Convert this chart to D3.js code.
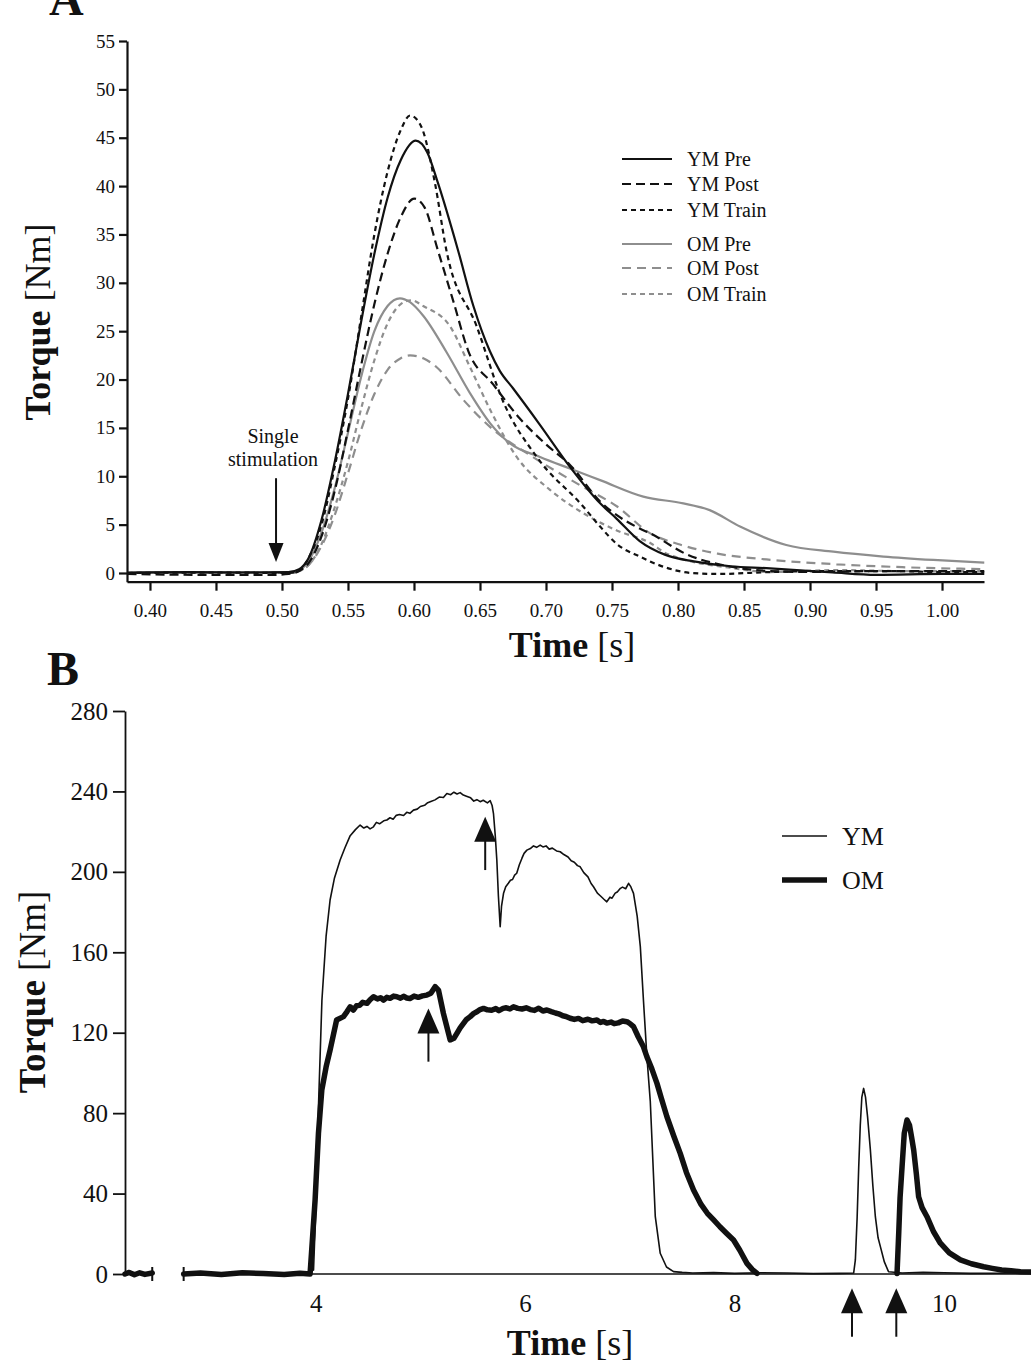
<!DOCTYPE html>
<html>
<head>
<meta charset="utf-8">
<script src="https://cdn.jsdelivr.net/npm/d3@7"></script>
<style>
  body { margin: 0; background: #fff; }
  svg text { font-family: 'Liberation Serif', 'Times New Roman', serif; fill: #111; }
</style>
</head>
<body>
<div id="chart"></div>
<script>
// ---------- Panel A data (single twitch) ----------
const ymPreT = [0.383, 0.43, 0.47, 0.505, 0.513, 0.52, 0.53, 0.54, 0.55, 0.56, 0.57, 0.58, 0.59, 0.6013, 0.61, 0.6182, 0.6333, 0.645, 0.6576, 0.665, 0.675, 0.695, 0.718, 0.741, 0.7536, 0.771, 0.79, 0.812, 0.84, 0.867, 0.917, 0.95, 1.0, 1.032]
const ymPreV = [0.05, 0.1, 0.05, 0.1, 0.4, 1.5, 5.5, 11.5, 18.5, 26, 33, 38.8, 42.7, 44.7, 43.5, 40.3, 33.4, 27.6, 22.9, 20.9, 19.1, 15.4, 11.0, 7.2, 5.6, 3.3, 1.9, 1.2, 0.7, 0.5, 0.05, -0.2, -0.1, -0.1]

const ymPostT = [0.383, 0.45, 0.49, 0.505, 0.513, 0.52, 0.53, 0.54, 0.55, 0.56, 0.57, 0.58, 0.59, 0.6002, 0.608, 0.618, 0.63, 0.641, 0.66, 0.68, 0.70, 0.718, 0.741, 0.771, 0.779, 0.8055, 0.84, 0.87, 0.9, 0.95, 1.0, 1.032]
const ymPostV = [-0.1, -0.2, -0.2, -0.1, 0.2, 1, 3.8, 8.5, 14.8, 21.5, 27.8, 33, 36.8, 38.7, 37.8, 33.4, 28, 23, 19.5, 16, 13.3, 11.2, 7.4, 4.6, 4.1, 2.0, 0.65, 0.2, 0.1, 0.2, 0.2, 0.2]

const ymTrainT = [0.383, 0.45, 0.505, 0.513, 0.52, 0.53, 0.54, 0.55, 0.56, 0.57, 0.58, 0.59, 0.597, 0.605, 0.6159, 0.6245, 0.6475, 0.667, 0.693, 0.728, 0.741, 0.7536, 0.771, 0.79, 0.81, 0.83, 0.87, 0.92, 0.96, 1.0, 1.032]
const ymTrainV = [0, 0.05, 0, 0.3, 1.5, 5, 11, 18, 26.5, 35, 41.5, 45.8, 47.3, 46.3, 40.3, 33.4, 25.5, 17.9, 12.0, 6.9, 4.8, 3.0, 1.7, 0.6, 0.0, -0.1, 0.1, 0.2, 0.2, 0.1, 0.1]

const omPreT = [0.383, 0.45, 0.505, 0.513, 0.52, 0.53, 0.54, 0.55, 0.56, 0.57, 0.58, 0.5894, 0.597, 0.607, 0.6248, 0.6424, 0.6576, 0.6727, 0.6955, 0.718, 0.741, 0.7737, 0.804, 0.824, 0.847, 0.882, 0.9177, 0.9556, 0.9934, 1.032]
const omPreV = [0, 0.1, 0.1, 0.3, 1.2, 4.2, 8.8, 14.5, 20.3, 25, 27.6, 28.4, 28.0, 26.6, 22.8, 18.6, 15.5, 13.4, 12.0, 10.8, 9.6, 7.9, 7.2, 6.5, 4.8, 2.9, 2.2, 1.7, 1.35, 1.07]

const omPostT = [0.383, 0.45, 0.505, 0.513, 0.52, 0.53, 0.54, 0.55, 0.56, 0.57, 0.58, 0.59, 0.597, 0.607, 0.617, 0.6374, 0.6576, 0.690, 0.728, 0.7536, 0.779, 0.80, 0.83, 0.867, 0.92, 0.97, 1.032]
const omPostV = [0, 0, 0, 0.2, 0.8, 2.8, 6, 10.3, 14.8, 18.5, 21, 22.2, 22.5, 22.2, 21.3, 17.9, 15.1, 12.0, 8.9, 6.9, 4.1, 3.0, 2.0, 1.4, 0.9, 0.6, 0.4]

const omTrainT = [0.383, 0.45, 0.505, 0.513, 0.52, 0.53, 0.54, 0.55, 0.56, 0.57, 0.58, 0.59, 0.598, 0.607, 0.6273, 0.6424, 0.6576, 0.6778, 0.703, 0.728, 0.7536, 0.779, 0.7915, 0.842, 0.87, 0.92, 0.97, 1.032]
const omTrainV = [0, 0, 0, 0.2, 0.8, 3, 6.8, 11.5, 17, 22, 25.8, 27.8, 28.2, 27.6, 25.5, 21.3, 16.9, 12.0, 8.6, 6.2, 4.4, 3.1, 2.0, 0.5, 0.1, 0.3, 0.2, 0.2]

const seriesA = ['YM Pre', 'YM Post', 'YM Train', 'OM Pre', 'OM Post', 'OM Train']
const ticksAx = [0.40, 0.45, 0.50, 0.55, 0.60, 0.65, 0.70, 0.75, 0.80, 0.85, 0.90, 0.95, 1.00]
const ticksAy = [0, 5, 10, 15, 20, 25, 30, 35, 40, 45, 50, 55]
const stimA = { t: 0.4955, tip: 1.14, tail: 9.8 }

// ---------- Panel B data (MVC + twitches) ----------
const ymBT = [2.18, 2.25, 2.32, 2.38, 2.44, null, 2.74, 3.0, 3.3, 3.6, 3.9, 3.98, 4.0, 4.027, 4.06, 4.1, 4.138, 4.18, 4.234, 4.28, 4.33, 4.38, 4.425, 4.46, 4.49, 4.52, 4.552, 4.58, 4.61, 4.65, 4.68, 4.71, 4.74, 4.77, 4.80, 4.84, 4.87, 4.90, 4.934, 4.97, 5.0, 5.04, 5.07, 5.1, 5.14, 5.18, 5.22, 5.253, 5.29, 5.32, 5.35, 5.38, 5.41, 5.44, 5.48, 5.51, 5.54, 5.571, 5.60, 5.64, 5.667, 5.685, 5.698, 5.715, 5.73, 5.745, 5.762, 5.775, 5.794, 5.815, 5.84, 5.86, 5.88, 5.90, 5.92, 5.945, 5.97, 5.99, 6.017, 6.05, 6.08, 6.11, 6.144, 6.17, 6.2, 6.23, 6.26, 6.3, 6.335, 6.37, 6.41, 6.44, 6.47, 6.5, 6.526, 6.56, 6.6, 6.63, 6.653, 6.69, 6.72, 6.75, 6.78, 6.81, 6.83, 6.86, 6.88, 6.91, 6.93, 6.96, 6.988, 7.01, 7.035, 7.07, 7.1, 7.13, 7.163, 7.195, 7.243, 7.29, 7.35, 7.417, 7.5, 7.6, 7.8, 8.0, 8.25, 8.5, 8.75, 9.0, 9.137, 9.153, 9.17, 9.185, 9.2, 9.215, 9.232, 9.25, 9.27, 9.296, 9.32, 9.344, 9.37, 9.392, 9.43, 9.47, 9.6, 9.8, 10.0, 10.25, 10.5, 10.83]
const ymBV = [0.5, 0.2, 0.6, 0.1, 0.4, null, 0.3, 0.1, 0.5, 0.2, 0.4, 2, 30, 83, 136, 168, 186, 197, 205.9, 212, 218, 221, 223.3, 221.8, 222.6, 221.4, 222.4, 224.6, 223.9, 225.4, 225.8, 226.9, 226.2, 228.1, 228.5, 228.0, 229.6, 229.1, 230.7, 231.2, 232.5, 233.1, 234.4, 235, 235.8, 237.2, 237.0, 239, 238.4, 239.6, 238.7, 239.4, 238.2, 237.6, 236.8, 235.2, 235.9, 234.9, 235.6, 234.3, 235.4, 233, 229, 218, 205.9, 188, 172.7, 183, 189.3, 192.6, 194.3, 195.8, 196.2, 198.4, 199.3, 203.5, 206.8, 209.2, 210.8, 211.6, 212.9, 212.2, 213.3, 212.4, 212.9, 211.3, 211.8, 210.4, 210, 208.6, 207.4, 205.5, 204.8, 203.1, 202.5, 199.6, 197.5, 194.2, 192.6, 189.4, 188, 186.5, 185.1, 187.4, 186.9, 189.4, 190, 191.8, 192.4, 191.6, 194.3, 192.5, 189.3, 178, 162.8, 136, 108, 86, 28.5, 10.3, 3.5, 1.2, 0.8, 0.5, 0.7, 0.3, 0.6, 0.5, 0.2, 0.3, 0.5, 7, 28, 53, 74, 88, 92.3, 88, 78, 62, 44, 28.5, 18, 13.6, 6, 1.1, 0.5, 0.8, 0.6, 0.3, 0.4, 0.5]

const omBT = [2.18, 2.22, 2.27, 2.32, 2.37, 2.44, null, 2.74, 2.9, 3.1, 3.3, 3.5, 3.7, 3.85, 3.947, 3.995, 4.027, 4.059, 4.1, 4.138, 4.2, 4.266, 4.30, 4.33, 4.36, 4.39, 4.42, 4.45, 4.49, 4.52, 4.552, 4.59, 4.62, 4.648, 4.68, 4.71, 4.745, 4.775, 4.81, 4.84, 4.87, 4.9, 4.94, 4.98, 5.02, 5.062, 5.1, 5.141, 5.173, 5.22, 5.285, 5.32, 5.349, 5.38, 5.41, 5.44, 5.476, 5.51, 5.54, 5.57, 5.603, 5.64, 5.68, 5.72, 5.75, 5.79, 5.82, 5.855, 5.889, 5.93, 5.97, 6.01, 6.05, 6.09, 6.13, 6.17, 6.208, 6.25, 6.29, 6.32, 6.36, 6.39, 6.43, 6.47, 6.51, 6.55, 6.6, 6.64, 6.686, 6.72, 6.75, 6.78, 6.82, 6.85, 6.89, 6.93, 6.972, 7.0, 7.035, 7.08, 7.13, 7.163, 7.21, 7.259, 7.3, 7.354, 7.42, 7.481, 7.54, 7.608, 7.68, 7.74, 7.8, 7.86, 7.92, 7.99, 8.05, 8.118, 8.17, 8.214, null, 9.551, 9.567, 9.58, 9.599, 9.62, 9.646, 9.67, 9.69, 9.71, 9.735, 9.757, 9.79, 9.837, 9.9, 9.965, 10.05, 10.156, 10.26, 10.378, 10.46, 10.55, 10.64, 10.73, 10.83]
const omBV = [0, 0.8, -0.4, 0.6, -0.2, 0.5, null, 0, 0.5, -0.3, 0.6, 0.2, -0.2, 0.4, 0, 36.8, 70, 91.5, 103, 111.4, 126.3, 128, 130.5, 132.9, 131.3, 133.4, 133.6, 135.1, 134.6, 136.4, 137.9, 136.8, 137.4, 136.2, 137.6, 137.1, 138.2, 137.9, 137.2, 138.1, 137.3, 137, 138.2, 137.6, 138.3, 138.7, 139.6, 142.9, 141.2, 129.6, 116.4, 117.2, 119.7, 122.4, 124.5, 126.6, 128, 129.6, 130.4, 131.5, 132.1, 131.4, 131.2, 132.0, 131, 132.1, 132.4, 131.8, 132.9, 132.1, 131.8, 132.4, 131.5, 131.1, 132.2, 130.8, 131.3, 130.5, 129.8, 129.4, 128.4, 128.1, 127.2, 126.6, 127.1, 126, 126.7, 125.9, 126.3, 125.1, 125.6, 124.8, 125.3, 124.5, 124.9, 125.8, 125.5, 124.6, 123, 118, 113, 108, 102, 94.8, 87.5, 78.2, 68.5, 60, 50.5, 41.8, 34.6, 30.2, 26.9, 23.5, 20.4, 16.9, 11.8, 5.3, 2.2, 0.3, null, 0.3, 20.2, 38, 53.4, 70, 76.6, 74, 68, 61.7, 50, 38.4, 33, 28.5, 21, 15.3, 10.5, 7, 5.1, 3.6, 2.8, 2, 1.6, 1.1, 1]

const axisBreak = [2.44, 2.74]
const ticksBx = [4, 6, 8, 10]
const ticksBy = [0, 40, 80, 120, 160, 200, 240, 280]
const arrowsB = [
  { t: 5.619, tip: 227.4, tail: 200.9 },
  { t: 5.077, tip: 132.1, tail: 105.6 },
  { t: 9.121, tip: -7.1, tail: -31.2 },
  { t: 9.544, tip: -7.1, tail: -31.2 }
]

const width = 1031
const height = 1372
const ink = '#111'
const grey = '#8e8e8e'

const svg = d3.select('#chart')
  .append('svg')
  .attr('width', width)
  .attr('height', height)

// ================= Panel A =================
const xA = d3.scaleLinear().domain([0.3826, 1.0318]).range([127, 984])
const yA = d3.scaleLinear().domain([-0.9, 55]).range([581.7, 41])

const gA = svg.append('g')

const styleA = {
  'YM Pre':   { t: ymPreT,   v: ymPreV,   color: ink,  dash: null },
  'YM Post':  { t: ymPostT,  v: ymPostV,  color: ink,  dash: '9,5' },
  'YM Train': { t: ymTrainT, v: ymTrainV, color: ink,  dash: '5,4' },
  'OM Pre':   { t: omPreT,   v: omPreV,   color: grey, dash: null },
  'OM Post':  { t: omPostT,  v: omPostV,  color: grey, dash: '9,6' },
  'OM Train': { t: omTrainT, v: omTrainV, color: grey, dash: '5,4' }
}

const lineA = d3.line()
  .x(d => xA(d[0]))
  .y(d => yA(d[1]))
  .curve(d3.curveMonotoneX)

// draw grey first so black sits on top
;['OM Pre', 'OM Post', 'OM Train', 'YM Pre', 'YM Post', 'YM Train'].forEach(name => {
  const s = styleA[name]
  gA.append('path')
    .datum(s.t.map((t, i) => [t, s.v[i]]))
    .attr('fill', 'none')
    .attr('stroke', s.color)
    .attr('stroke-width', 2.2)
    .attr('stroke-dasharray', s.dash)
    .attr('d', lineA)
})

// axes
const axA_x = gA.append('g')
  .attr('transform', `translate(0, ${yA(-0.9)})`)
  .call(d3.axisBottom(xA).tickValues(ticksAx).tickFormat(d3.format('.2f')).tickSize(9).tickSizeOuter(0).tickPadding(13))
const axA_y = gA.append('g')
  .attr('transform', `translate(${xA(0.3826)}, 0)`)
  .call(d3.axisLeft(yA).tickValues(ticksAy).tickSize(8).tickSizeOuter(0).tickPadding(4))
;[axA_x, axA_y].forEach(ax => {
  ax.selectAll('path, line').attr('stroke', ink).attr('stroke-width', 2.2)
  ax.selectAll('text').attr('font-size', 19).attr('font-family', null).attr('fill', ink)
})

// titles
gA.append('text')
  .attr('x', 49).attr('y', 15)
  .attr('font-size', 48).attr('font-weight', 'bold')
  .text('A')

const titleAx = gA.append('text')
  .attr('x', 572).attr('y', 657)
  .attr('text-anchor', 'middle')
  .attr('font-size', 36)
titleAx.append('tspan').attr('font-weight', 'bold').text('Time ')
titleAx.append('tspan').text('[s]')

const titleAy = gA.append('text')
  .attr('transform', 'translate(50, 322) rotate(-90)')
  .attr('text-anchor', 'middle')
  .attr('font-size', 36)
titleAy.append('tspan').attr('font-weight', 'bold').text('Torque ')
titleAy.append('tspan').text('[Nm]')

// stimulation arrow
gA.append('text')
  .attr('x', xA(0.4932)).attr('y', yA(13.4))
  .attr('text-anchor', 'middle').attr('font-size', 20)
  .text('Single')
gA.append('text')
  .attr('x', xA(0.4932)).attr('y', yA(11.1))
  .attr('text-anchor', 'middle').attr('font-size', 20)
  .text('stimulation')
gA.append('line')
  .attr('x1', xA(stimA.t)).attr('x2', xA(stimA.t))
  .attr('y1', yA(stimA.tail)).attr('y2', yA(stimA.tip) - 15)
  .attr('stroke', ink).attr('stroke-width', 2)
gA.append('path')
  .attr('d', `M${xA(stimA.t)},${yA(stimA.tip)} l-7.5,-19 l15,0 Z`)
  .attr('fill', ink)

// legend A
const legA = gA.append('g')
seriesA.forEach((name, i) => {
  const s = styleA[name]
  const y = [159, 184, 210, 244, 268, 294][i]
  legA.append('line')
    .attr('x1', 622).attr('x2', 672).attr('y1', y).attr('y2', y)
    .attr('stroke', s.color).attr('stroke-width', 2.2)
    .attr('stroke-dasharray', s.dash)
  legA.append('text')
    .attr('x', 687).attr('y', y).attr('dy', '0.35em')
    .attr('font-size', 20)
    .text(name)
})

// ================= Panel B =================
const xB = d3.scaleLinear().domain([2.18, 10.83]).range([125, 1031])
const yB = d3.scaleLinear().domain([0, 280]).range([1274, 711])

const gB = svg.append('g')

// zero line with axis break
;[[2.18, axisBreak[0]], [axisBreak[1], 10.83]].forEach(seg => {
  gB.append('line')
    .attr('x1', xB(seg[0])).attr('x2', xB(seg[1]))
    .attr('y1', yB(0)).attr('y2', yB(0))
    .attr('stroke', ink).attr('stroke-width', 1.6)
})
axisBreak.forEach(t => {
  gB.append('line')
    .attr('x1', xB(t)).attr('x2', xB(t))
    .attr('y1', yB(0) - 7).attr('y2', yB(0) + 7)
    .attr('stroke', ink).attr('stroke-width', 2)
})

const lineB = d3.line()
  .defined(d => d[0] !== null)
  .x(d => xB(d[0]))
  .y(d => yB(d[1]))

gB.append('path')
  .datum(omBT.map((t, i) => [t, omBV[i]]))
  .attr('fill', 'none')
  .attr('stroke', ink)
  .attr('stroke-width', 5.5)
  .attr('stroke-linejoin', 'round')
  .attr('stroke-linecap', 'round')
  .attr('d', lineB)

gB.append('path')
  .datum(ymBT.map((t, i) => [t, ymBV[i]]))
  .attr('fill', 'none')
  .attr('stroke', ink)
  .attr('stroke-width', 1.6)
  .attr('stroke-linejoin', 'round')
  .attr('d', lineB)

const axB_x = gB.append('g')
  .attr('transform', `translate(0, ${yB(0)})`)
  .call(d3.axisBottom(xB).tickValues(ticksBx).tickSize(0).tickPadding(20))
axB_x.select('.domain').remove()
const axB_y = gB.append('g')
  .attr('transform', `translate(${xB(2.18)}, 0)`)
  .call(d3.axisLeft(yB).tickValues(ticksBy).tickSize(12).tickSizeOuter(0).tickPadding(5))
;[axB_x, axB_y].forEach(ax => {
  ax.selectAll('path, line').attr('stroke', ink).attr('stroke-width', 1.8)
  ax.selectAll('text').attr('font-size', 25).attr('font-family', null).attr('fill', ink)
})

// arrows
arrowsB.forEach(a => {
  gB.append('line')
    .attr('x1', xB(a.t)).attr('x2', xB(a.t))
    .attr('y1', yB(a.tail)).attr('y2', yB(a.tip) + 20)
    .attr('stroke', ink).attr('stroke-width', 2)
  gB.append('path')
    .attr('d', `M${xB(a.t)},${yB(a.tip)} l-11,25 l22,0 Z`)
    .attr('fill', ink)
})

// titles
gB.append('text')
  .attr('x', 47).attr('y', 685)
  .attr('font-size', 48).attr('font-weight', 'bold')
  .text('B')

const titleBx = gB.append('text')
  .attr('x', 570).attr('y', 1355)
  .attr('text-anchor', 'middle')
  .attr('font-size', 36)
titleBx.append('tspan').attr('font-weight', 'bold').text('Time ')
titleBx.append('tspan').text('[s]')

const titleBy = gB.append('text')
  .attr('transform', 'translate(45, 992) rotate(-90)')
  .attr('text-anchor', 'middle')
  .attr('font-size', 37)
titleBy.append('tspan').attr('font-weight', 'bold').text('Torque ')
titleBy.append('tspan').text('[Nm]')

// legend B
const legB = gB.append('g')
;[['YM', 1.6, 836], ['OM', 5.5, 880]].forEach(([name, w, y]) => {
  legB.append('line')
    .attr('x1', 782).attr('x2', 827).attr('y1', y).attr('y2', y)
    .attr('stroke', ink).attr('stroke-width', w)
  legB.append('text')
    .attr('x', 842).attr('y', y).attr('dy', '0.35em')
    .attr('font-size', 26)
    .text(name)
})
</script>
</body>
</html>
